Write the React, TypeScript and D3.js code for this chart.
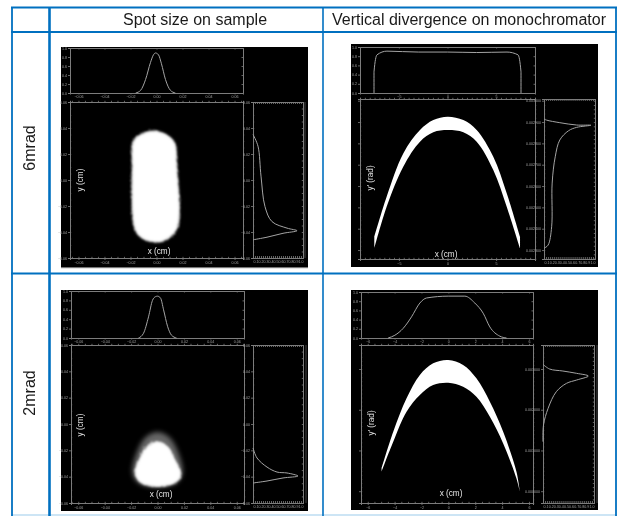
import React, { useRef, useEffect } from 'react'
import * as d3 from 'd3'

const columnTitles = ['Spot size on sample', 'Vertical divergence on monochromator']
const rowTitles = ['6mrad', '2mrad']
const spotTicks = [-0.06, -0.04, -0.02, 0, 0.02, 0.04, 0.06]

// spot 6mrad, outline of the white blob plus the two projections
const spot6OutlineX = [-0.0008, 0.013, 0.0153, 0.016, 0.0092, 0.0008, -0.0122, -0.0168, -0.0183, -0.0175, -0.0122]
const spot6OutlineY = [0.0375, 0.0298, 0.0105, -0.036, -0.0445, -0.0476, -0.0437, -0.036, 0.0105, 0.0298, 0.0346]
const spot6TopX = [-0.016, -0.0122, -0.0084, -0.0046, -0.0023, -0.0008, 0.0015, 0.0038, 0.0069, 0.0107, 0.0145]
const spot6TopV = [0, 0.06, 0.3, 0.68, 0.85, 0.89, 0.85, 0.65, 0.3, 0.06, 0]
const spot6SideY = [0.035, 0.026, 0.003, -0.0205, -0.032, -0.037, -0.039, -0.041, -0.044, -0.046]
const spot6SideV = [0, 0.1, 0.16, 0.24, 0.38, 0.68, 0.88, 0.6, 0.28, 0]

// spot 2mrad, with the thin cloud reaching above the dense part
const spot2OutlineX = [0, 0.0076, 0.0122, 0.0175, 0.0137, 0, -0.0129, -0.0167, -0.0129, -0.0076]
const spot2OutlineY = [-0.0137, -0.0175, -0.0258, -0.0388, -0.0441, -0.0471, -0.0441, -0.0373, -0.0258, -0.0175]
const spot2HaloX = [0, 0.009, 0.015, 0.019, 0.014, 0, -0.014, -0.019, -0.015, -0.009]
const spot2HaloY = [-0.006, -0.01, -0.02, -0.037, -0.045, -0.048, -0.045, -0.037, -0.02, -0.01]
const spot2TopX = [-0.0144, -0.0106, -0.0068, -0.0038, -0.0015, 0, 0.0023, 0.0046, 0.0076, 0.0106, 0.0144]
const spot2TopV = [0, 0.1, 0.45, 0.8, 0.88, 0.89, 0.85, 0.6, 0.25, 0.06, 0]
const spot2SideY = [-0.0182, -0.0258, -0.0327, -0.0365, -0.0372, -0.0395, -0.041, -0.0433, -0.0448]
const spot2SideV = [0, 0.08, 0.28, 0.48, 0.68, 0.9, 0.6, 0.28, 0]

// divergence 6mrad, y' in mrad
const arch6X = [-7.53, -6.26, -4.55, -2.83, -1.46, 0.02, 1.63, 3.0, 4.71, 6.09, 7.46]
const arch6Upper = [2.362, 2.55, 2.753, 2.8625, 2.909, 2.925, 2.909, 2.8625, 2.737, 2.566, 2.362]
const arch6Lower = [2.308, 2.503, 2.691, 2.808, 2.852, 2.8625, 2.852, 2.808, 2.675, 2.503, 2.308]
const arch6TopX = [-7.56, -7.56, -7.25, -6.23, -3, 0, 3, 6.12, 7.25, 7.56, 7.56]
const arch6TopV = [0, 0.46, 0.83, 0.91, 0.89, 0.89, 0.88, 0.89, 0.83, 0.46, 0]
const arch6SideY = [2.914, 2.909, 2.897, 2.886, 2.885, 2.875, 2.859, 2.816, 2.737, 2.614, 2.409, 2.323, 2.308]
const arch6SideV = [0, 0.05, 0.31, 0.64, 0.92, 0.64, 0.48, 0.31, 0.22, 0.16, 0.15, 0.08, 0]
const arch6TicksX = [-5, 0, 5]
const arch6TicksY = [2.3, 2.4, 2.5, 2.6, 2.7, 2.8, 2.9, 3.0]

// divergence 2mrad
const arch2X = [-4.97, -4.1, -3.11, -2.12, -1.13, -0.01, 1.1, 2.09, 3.09, 4.08, 5.07, 5.32]
const arch2Upper = [0.56, 1.46, 2.28, 2.853, 3.14, 3.221, 3.098, 2.771, 2.197, 1.46, 0.477, -0.014]
const arch2Lower = [0.477, 1.214, 1.951, 2.361, 2.607, 2.664, 2.566, 2.32, 1.829, 1.174, 0.314, -0.014]
const arch2TopX = [-4.48, -3.98, -3.36, -2.74, -2.12, -1.62, -0.01, 1.23, 1.97, 2.59, 3.09, 3.83, 4.33]
const arch2TopV = [0, 0.06, 0.21, 0.46, 0.76, 0.87, 0.91, 0.91, 0.76, 0.54, 0.24, 0.04, 0]
const arch2SideY = [3.115, 3.0, 2.951, 2.894, 2.828, 2.73, 2.648, 2.442, 2.034, 1.624, 1.214]
const arch2SideV = [0, 0.13, 0.39, 0.66, 0.89, 0.66, 0.46, 0.26, 0.1, 0.01, 0]
const arch2TicksX = [-6, -4, -2, 0, 2, 4, 6]
const arch2TicksY = [0, 1, 2, 3]

type Box = [number, number, number, number] // x0, x1, y0, y1

const zip = (a: number[], b: number[]) => a.map((d, i) => [d, b[i]] as [number, number])

const panels = [
  {
    black: [61, 308, 47, 267], top: [70, 243, 48, 93], main: [70, 243, 102, 258], side: [253, 303, 102, 258],
    xDomain: [-0.0665, 0.0665], yDomain: [-0.06, 0.06], xTicks: spotTicks, yTicks: spotTicks,
    blob: zip(spot6OutlineX, spot6OutlineY), halo: null, band: null, leftLabels: true, extraEdge: 305,
    topCurve: zip(spot6TopX, spot6TopV), sideCurve: zip(spot6SideV, spot6SideY),
    xLabel: 'x (cm)', xLabelPos: [159, 254], yLabel: 'y (cm)', yLabelPos: [83, 180],
    fmtX: d3.format('.2f'), fmtY: d3.format('.2f'),
  },
  {
    black: [351, 598, 44, 267], top: [360, 535, 47, 93], main: [360, 535, 99, 259], side: [544, 595, 99, 259],
    xDomain: [-9, 9], yDomain: [2.258, 3.008], xTicks: arch6TicksX, yTicks: arch6TicksY,
    blob: null, halo: null, band: { x: arch6X, upper: arch6Upper, lower: arch6Lower }, leftLabels: false, extraEdge: null,
    topCurve: zip(arch6TopX, arch6TopV), sideCurve: zip(arch6SideV, arch6SideY),
    xLabel: 'x (cm)', xLabelPos: [446, 257], yLabel: "y' (rad)", yLabelPos: [373, 178],
    fmtX: d3.format('d'), fmtY: (d: number) => (d / 1000).toFixed(6),
  },
  {
    black: [61, 308, 290, 511], top: [71, 244, 291, 338], main: [71, 244, 345, 503], side: [253, 303, 345, 503],
    xDomain: [-0.0655, 0.0655], yDomain: [-0.06, 0.06], xTicks: spotTicks, yTicks: spotTicks,
    blob: zip(spot2OutlineX, spot2OutlineY), halo: zip(spot2HaloX, spot2HaloY), band: null, leftLabels: true, extraEdge: 306,
    topCurve: zip(spot2TopX, spot2TopV), sideCurve: zip(spot2SideV, spot2SideY),
    xLabel: 'x (cm)', xLabelPos: [161, 497], yLabel: 'y (cm)', yLabelPos: [83, 425],
    fmtX: d3.format('.2f'), fmtY: d3.format('.2f'),
  },
  {
    black: [351, 598, 290, 510], top: [361, 533, 292, 338], main: [361, 533, 345, 503], side: [543, 594, 345, 503],
    xDomain: [-6.5, 6.3], yDomain: [-0.29, 3.59], xTicks: arch2TicksX, yTicks: arch2TicksY,
    blob: null, halo: null, band: { x: arch2X, upper: arch2Upper, lower: arch2Lower }, leftLabels: false, extraEdge: 597,
    topCurve: zip(arch2TopX, arch2TopV), sideCurve: zip(arch2SideV, arch2SideY),
    xLabel: 'x (cm)', xLabelPos: [451, 496], yLabel: "y' (rad)", yLabelPos: [374, 423],
    fmtX: d3.format('d'), fmtY: (d: number) => (d / 1000).toFixed(6),
  },
]

const GREY = '#7c7c7c'
const BLUE = '#0070c0'

export default function App() {
  const ref = useRef<SVGSVGElement>(null)

  useEffect(() => {
    const svg = d3.select(ref.current)
    svg.selectAll('*').remove()

    const defs = svg.append('defs')
    defs.append('filter').attr('id', 'soft').append('feGaussianBlur').attr('stdDeviation', 0.65)
    defs.append('filter').attr('id', 'soft2').append('feGaussianBlur').attr('stdDeviation', 1.4)
    defs.append('filter').attr('id', 'soft3').attr('x', '-30%').attr('y', '-30%')
      .attr('width', '160%').attr('height', '160%')
      .append('feGaussianBlur').attr('stdDeviation', 2.5)
    const speck = defs.append('filter').attr('id', 'speck')
      .attr('x', '-30%').attr('y', '-30%').attr('width', '160%').attr('height', '160%')
    speck.append('feTurbulence').attr('type', 'fractalNoise').attr('baseFrequency', 0.55)
      .attr('numOctaves', 2).attr('seed', 3).attr('result', 'n')
    speck.append('feDisplacementMap').attr('in', 'SourceGraphic').attr('in2', 'n')
      .attr('scale', 7).attr('result', 'd')
    speck.append('feGaussianBlur').attr('in', 'd').attr('stdDeviation', 0.9)

    panels.forEach((p) => {
      const g = svg.append('g')
      const [bx0, bx1, by0, by1] = p.black as Box
      g.append('rect').attr('x', bx0).attr('y', by0)
        .attr('width', bx1 - bx0).attr('height', by1 - by0).attr('fill', '#000')

      const inner = g.append('g').attr('filter', 'url(#soft)')
      const x = d3.scaleLinear().domain(p.xDomain).range([p.main[0], p.main[1]])
      const y = d3.scaleLinear().domain(p.yDomain).range([p.main[3], p.main[2]])
      const topV = d3.scaleLinear().domain([0, 1]).range([p.top[3], p.top[2]])
      const sideV = d3.scaleLinear().domain([0, 1]).range([p.side[0], p.side[1]])

      const style = (a: d3.Selection<SVGGElement, unknown, null, undefined>) => {
        a.selectAll('path').attr('stroke', GREY).attr('stroke-width', 1)
        a.selectAll('line').attr('stroke', GREY).attr('stroke-width', 0.8)
        a.selectAll('text').attr('fill', '#a0a0a0').attr('font-size', 3.6)
          .attr('font-family', 'Liberation Sans')
      }

      const axisG = (tx: number, ty: number) =>
        inner.append('g').attr('transform', `translate(${tx},${ty})`)

      const xMinor = x.ticks(40)
      const yMinor = y.ticks(30)

      // top projection
      const topX = d3.scaleLinear().domain(p.xDomain).range([p.top[0], p.top[1]])
      style(axisG(0, p.top[3]).call(d3.axisBottom(topX).tickValues(p.xTicks).tickSize(1.5).tickPadding(1).tickFormat(p.fmtX as any)) as any)
      style(axisG(0, p.top[2]).call(d3.axisTop(topX).tickValues(p.xTicks).tickSize(-1.5).tickFormat(() => '')) as any)
      style(axisG(p.top[0], 0).call(d3.axisLeft(topV).ticks(5).tickSize(2).tickPadding(1).tickFormat(d3.format('.1f') as any)) as any)
      style(axisG(p.top[1], 0).call(d3.axisRight(topV).ticks(5).tickSize(-1.5).tickFormat(() => '')) as any)

      // main frame
      style(axisG(0, p.main[3]).call(d3.axisBottom(x).tickValues(p.xTicks).tickSize(2).tickPadding(1.5).tickFormat(p.fmtX as any)) as any)
      style(axisG(0, p.main[3]).call(d3.axisTop(x).tickValues(xMinor).tickSize(1.2).tickFormat(() => '')) as any)
      style(axisG(0, p.main[2]).call(d3.axisTop(x).tickValues(xMinor).tickSize(1.2).tickFormat(() => '')) as any)
      // the spot plots label their y axis on the left, the divergence plots only beside the side plot
      style(axisG(p.main[0], 0).call(d3.axisLeft(y).tickValues(p.yTicks).tickSize(2).tickPadding(1)
        .tickFormat(p.leftLabels ? (p.fmtY as any) : () => '')) as any)
      style(axisG(p.main[0], 0).call(d3.axisRight(y).tickValues(yMinor).tickSize(1.2).tickFormat(() => '')) as any)
      style(axisG(p.main[1], 0).call(d3.axisRight(y).tickValues(yMinor).tickSize(1.2).tickFormat(() => '')) as any)

      // side projection, thick bottom edge as in the original plots
      style(axisG(p.side[0], 0).call(d3.axisLeft(y).tickValues(p.yTicks).tickSize(2).tickPadding(1).tickFormat(p.fmtY as any)) as any)
      style(axisG(p.side[0], 0).call(d3.axisRight(y).tickValues(yMinor).tickSize(1.2).tickFormat(() => '')) as any)
      style(axisG(p.side[1], 0).call(d3.axisLeft(y).tickValues(yMinor).tickSize(1.2).tickFormat(() => '')) as any)
      const sideTicks = d3.range(0, 1.01, 0.04)
      style(axisG(0, p.main[3]).call(d3.axisTop(sideV).tickValues(sideTicks).tickSize(2).tickFormat(() => '')) as any)
      style(axisG(0, p.main[2]).call(d3.axisBottom(sideV).tickValues(sideTicks).tickSize(2).tickFormat(() => '')) as any)
      style(axisG(0, p.main[3]).call(d3.axisBottom(sideV).tickValues(d3.range(0.05, 1, 0.1)).tickSize(1).tickPadding(1).tickFormat(d3.format('.1f') as any)) as any)
      if (p.extraEdge) {
        inner.append('line').attr('x1', p.extraEdge).attr('x2', p.extraEdge)
          .attr('y1', p.main[2]).attr('y2', p.main[3]).attr('stroke', '#555').attr('stroke-width', 0.8)
      }

      // curves
      const curveTop = d3.line<[number, number]>().x((d) => topX(d[0])).y((d) => topV(d[1]))
        .curve(d3.curveMonotoneX)
      inner.append('path').attr('d', curveTop(p.topCurve as any)).attr('fill', 'none')
        .attr('stroke', '#a4a4a4').attr('stroke-width', 1)
      const curveSide = d3.line<[number, number]>().x((d) => sideV(d[0])).y((d) => y(d[1]))
        .curve(d3.curveCatmullRom.alpha(0.5))
      inner.append('path').attr('d', curveSide(p.sideCurve as any)).attr('fill', 'none')
        .attr('stroke', '#a4a4a4').attr('stroke-width', 1)

      // white scatter, drawn as filled outlines
      const blob = d3.line<[number, number]>().x((d) => x(d[0])).y((d) => y(d[1]))
        .curve(d3.curveCatmullRomClosed.alpha(0.5))
      if (p.halo) {
        g.append('path').attr('d', blob(p.halo as any)).attr('fill', '#fff')
          .attr('opacity', 0.4).attr('filter', 'url(#soft3)')
      }
      if (p.blob) {
        g.append('path').attr('d', blob(p.blob as any)).attr('fill', '#fff')
          .attr('opacity', 0.8).attr('filter', 'url(#speck)')
        g.append('path').attr('d', blob(p.blob as any)).attr('fill', '#fff')
          .attr('stroke', '#fff').attr('stroke-width', 0.5).attr('filter', 'url(#soft2)')
      }
      if (p.band) {
        const { x: bandX, upper, lower } = p.band
        const area = d3.area<number>().x((d) => x(d))
          .y0((_, i) => y(lower[i])).y1((_, i) => y(upper[i]))
          .curve(d3.curveCatmullRom.alpha(0.5))
        g.append('path').attr('d', area(bandX)).attr('fill', '#fff').attr('filter', 'url(#soft)')
      }

      g.append('text').attr('x', p.xLabelPos[0]).attr('y', p.xLabelPos[1]).attr('text-anchor', 'middle')
        .attr('fill', '#e4e4e4').attr('font-size', 8.2).attr('font-family', 'Liberation Sans').text(p.xLabel)
      g.append('text').attr('transform', `translate(${p.yLabelPos[0]},${p.yLabelPos[1]}) rotate(-90)`)
        .attr('text-anchor', 'middle').attr('fill', '#e4e4e4').attr('font-size', 8.2)
        .attr('font-family', 'Liberation Sans').text(p.yLabel)
    })

    // grey strip under the first plot
    svg.append('rect').attr('x', 61).attr('y', 267).attr('width', 247).attr('height', 1.2).attr('fill', '#777')

    // table grid
    const grid = svg.append('g').attr('stroke', BLUE)
    const rule = (x1: number, y1: number, x2: number, y2: number, w: number, c = BLUE) =>
      grid.append('line').attr('x1', x1).attr('y1', y1).attr('x2', x2).attr('y2', y2)
        .attr('stroke-width', w).attr('stroke', c)
    rule(11, 7.5, 617, 7.5, 1.8)
    rule(11, 32, 617, 32, 1.8)
    rule(11, 273.5, 617, 273.5, 1.8)
    rule(11, 515, 617, 515, 1.5, '#bcdcf2')
    rule(12, 7, 12, 516, 1.8)
    rule(49.5, 7, 49.5, 516, 2.6)
    rule(323, 7, 323, 516, 1.6)
    rule(616, 7, 616, 516, 1.8)

    const labels = svg.append('g').attr('font-family', 'Liberation Sans').attr('fill', '#1a1a1a')
    labels.append('text').attr('x', 195).attr('y', 25).attr('text-anchor', 'middle')
      .attr('font-size', 16).text(columnTitles[0])
    labels.append('text').attr('x', 469).attr('y', 25).attr('text-anchor', 'middle')
      .attr('font-size', 16).text(columnTitles[1])
    labels.append('text').attr('transform', 'translate(35,148) rotate(-90)').attr('text-anchor', 'middle')
      .attr('font-size', 16).text(rowTitles[0])
    labels.append('text').attr('transform', 'translate(35,393) rotate(-90)').attr('text-anchor', 'middle')
      .attr('font-size', 16).text(rowTitles[1])
  }, [])

  return (
    <svg ref={ref} width={619} height={516}
      style={{ position: 'absolute', left: 0, top: 0, background: '#fff' }}></svg>
  )
}
